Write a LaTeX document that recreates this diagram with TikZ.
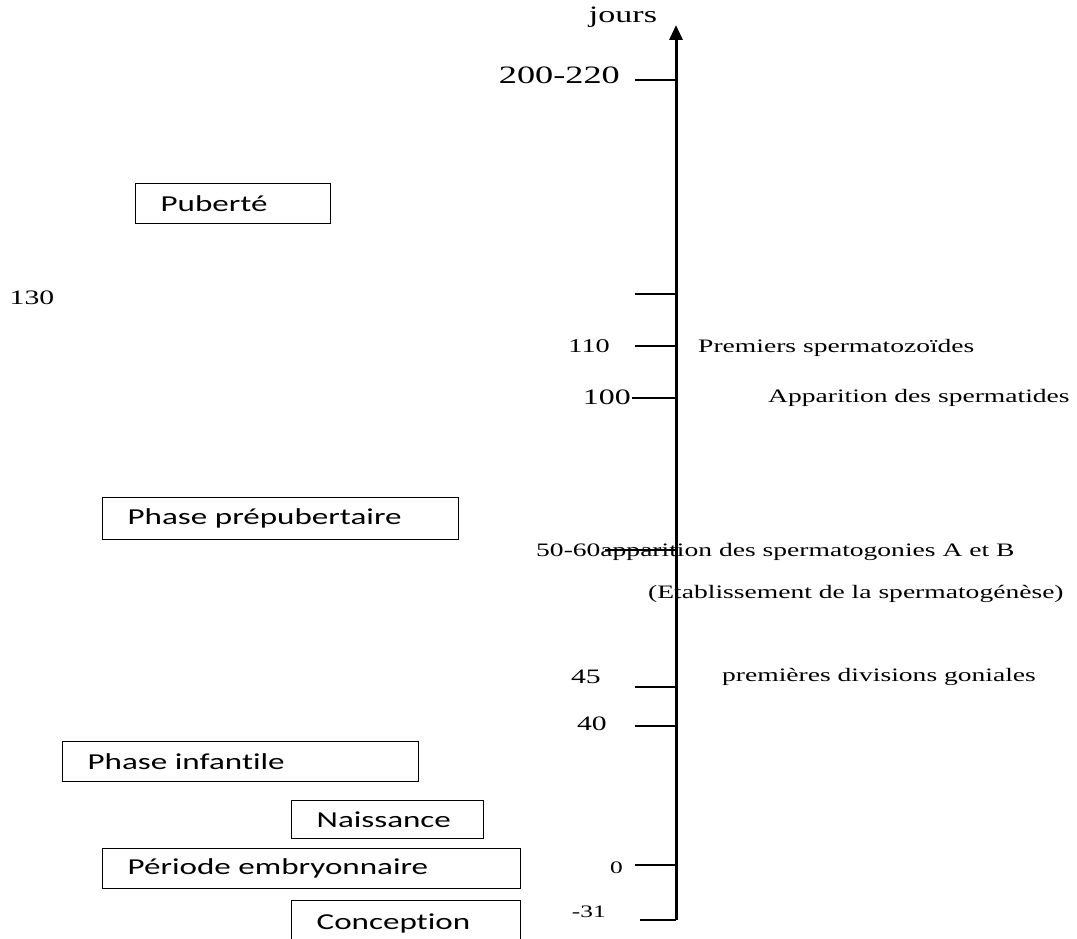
\documentclass[tikz,border=0pt]{standalone}
\usepackage{fontspec}
\usepackage{tikz}
\usetikzlibrary{arrows.meta, positioning}
\newfontfamily\serifw[FakeStretch=1.45]{Liberation Serif}
\newfontfamily\boxw[FakeStretch=1.45, Ligatures=CommonOff]{Carlito}

\begin{document}
\begin{tikzpicture}[x=1pt, y=-1pt,
  phase/.style = {draw, line width=1.3pt, anchor=north west, align=left,
                  font=\boxw\fontsize{22.8}{26}\selectfont, inner xsep=25pt},
  lbl/.style   = {anchor=west, inner sep=0pt, font=\serifw\fontsize{19}{22}\selectfont},
  num/.style   = {anchor=east, inner sep=0pt, font=\serifw\fontsize{#1}{#1}\selectfont},
  tick/.style  = {line width=1.4pt}
]
\useasboundingbox (0,0) rectangle (1077,939);
\clip (0,0) rectangle (1077,939);

%% Time axis
\coordinate (axbot) at (676,920);
\coordinate (axtop) at (676,25);
\draw[line width=3pt, -{Triangle[length=15pt,width=13pt]}] (axbot) -- (axtop);
\node[font=\serifw\fontsize{23.5}{23.5}\selectfont] (jours) at (623,17) {jours};

%% Ticks
\foreach \n/\y/\x in {a/80/635, b/294/635, c/346/635, d/398/632, e/550/605,
                      f/687/635, g/726/635, h/865/635, i/920/640} {
  \coordinate (tk\n) at (\x,\y);
  \draw[tick] (tk\n) -- (tk\n -| axtop);
}

%% Day values
\node[num=25] (v200) at (620,75)  {200-220};
\node[num=20.5, anchor=center] (v130) at (32,298) {130};
\node[num=19.5] (v110) at (610,346) {110};
\node[num=22] (v100) at (631,397) {100};
\node[num=20.5] (v45)  at (601,677) {45};
\node[num=20.5] (v40)  at (607,724) {40};
\node[num=17.5] (v0)   at (623,868) {0};
\node[num=17.5] (v31)  at (606,912) {-31};

%% Events
\node[lbl] (spz)  at (698,348) {Premiers spermatozoïdes};
\node[lbl] (spt)  at (768,398) {Apparition des spermatides};
\node[lbl] (spg)  at (536,552) {50-60apparition des spermatogonies A et B};
\node[lbl] (etab) at (648,594) {(Etablissement de la spermatogénèse)};
\node[lbl] (div)  at (722,677) {premières divisions goniales};

%% Phases
\node[phase, minimum height=40pt, text width=145pt] (pub)  at (135,183) {Puberté};
\node[phase, minimum height=42pt, text width=306pt] (prep) at (102,497) {Phase prépubertaire};
\node[phase, minimum height=40pt, text width=306pt] (inf)  at (62,741)  {Phase infantile};
\node[phase, minimum height=38pt, text width=142pt] (nais) at (291,800) {Naissance};
\node[phase, minimum height=40pt, text width=368pt] (emb)  at (102,848) {Période embryonnaire};
\node[phase, minimum height=46pt, text width=179pt] (conc) at (291,900) {Conception};
\end{tikzpicture}
\end{document}
